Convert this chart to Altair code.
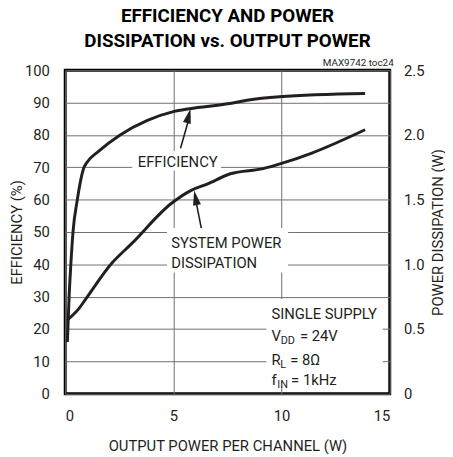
import altair as alt
import pandas as pd

# ---- data ----
eff_x = [0.1, 0.18, 0.26, 0.36, 0.56, 0.87, 1.0, 1.55, 2.54, 3.8, 5.0, 5.74, 7.6, 8.4, 9.9, 13.86]
eff_y = [16, 30, 40, 50, 60, 70, 71.5, 75, 80, 84.5, 87.2, 88.1, 89.7, 90.7, 91.8, 92.8]

pd_x = [0.1, 0.64, 0.94, 2.16, 3.07, 4.9, 5.8, 6.56, 7.63, 9.15, 10.0, 11.4, 13.86]
pd_y = [0.57, 0.66, 0.73, 1.01, 1.16, 1.47, 1.57, 1.62, 1.70, 1.74, 1.78, 1.86, 2.04]

x_ticks = [0, 5, 10, 15]
left_ticks = [0, 10, 20, 30, 40, 50, 60, 70, 80, 90, 100]
right_ticks = [0, 0.5, 1.0, 1.5, 2.0, 2.5]

title_lines = ["EFFICIENCY AND POWER", "DISSIPATION vs. OUTPUT POWER"]
x_title = "OUTPUT POWER PER CHANNEL (W)"
left_title = "EFFICIENCY (%)"
right_title = "POWER DISSIPATION (W)"
tag = "MAX9742 toc24"

# annotation placement (data units: x in W, y in %)
masks = pd.DataFrame({
    "x": [3.1, 4.7, 9.3],
    "x2": [7.2, 10.3, 14.68],
    "y": [68.9, 37.5, 2.4],
    "y2": [75.0, 51.2, 29.3],
})
labels_c = pd.DataFrame({"x": [5.2], "y": [70.2], "t": ["EFFICIENCY"]})
labels_l = pd.DataFrame({
    "x": [4.9, 4.9, 9.53],
    "y": [45.1, 39.0, 23.2],
    "t": ["SYSTEM POWER", "DISSIPATION", "SINGLE SUPPLY"],
})
main_txt = pd.DataFrame({
    "x": [9.53, 9.53, 9.53],
    "y": [16.2, 8.8, 2.6],
    "t": ["V", "R", "f"],
})
sub_txt = pd.DataFrame({
    "x": [9.96, 9.94, 9.8],
    "y": [15.3, 7.9, 1.7],
    "t": ["DD", "L", "IN"],
})
rest_txt = pd.DataFrame({
    "x": [10.85, 10.4, 10.44],
    "y": [16.2, 8.8, 2.6],
    "t": ["= 24V", "= 8\u03a9", "= 1kHz"],
})
shafts = pd.DataFrame({"x": [5.33, 6.29], "y": [75.9, 51.2], "x2": [5.76, 6.0], "y2": [86.0, 61.0]})
head_a = pd.DataFrame({"x": [5.79], "y": [88.1]})
head_b = pd.DataFrame({"x": [5.96], "y": [62.8]})

eff_df = pd.DataFrame({"x": eff_x, "y": eff_y})
pd_df = pd.DataFrame({"x": pd_x, "y": pd_y})

FONT = "Roboto, Liberation Sans, sans-serif"
INK = "#231f20"
GRID = "#6f6f6f"

X = alt.X("x:Q", scale=alt.Scale(domain=[0, 15], nice=False, zero=False),
          axis=alt.Axis(values=x_ticks, title=x_title, grid=True, gridColor=GRID,
                        gridWidth=1, domain=False, ticks=False, labelPadding=15,
                        titlePadding=16))
YL = alt.Y("y:Q", scale=alt.Scale(domain=[0, 100], nice=False),
           axis=alt.Axis(values=left_ticks, title=left_title, grid=True, gridColor=GRID,
                         gridWidth=1, domain=False, ticks=False, labelPadding=16,
                         titlePadding=0, orient="left"))
YR = alt.Y("y:Q", scale=alt.Scale(domain=[0, 2.5], nice=False),
           axis=alt.Axis(values=right_ticks, title=right_title, grid=False, domain=False,
                         ticks=False, labelPadding=14, titlePadding=7, orient="right",
                         titleAngle=270, titleBaseline="top",
                         labelExpr="datum.value == 0 ? '0' : format(datum.value, '.1f')"))

mask = alt.Chart(masks).mark_rect(color="white").encode(x=X, x2="x2:Q", y=YL, y2="y2:Q")

eff_line = alt.Chart(eff_df).mark_line(color=INK, strokeWidth=3, interpolate="monotone").encode(x=X, y=YL)

shaft = alt.Chart(shafts).mark_rule(color=INK, strokeWidth=1.6).encode(x=X, y=YL, x2="x2:Q", y2="y2:Q")
HEAD = "M0,0 L-0.27,1 L0.27,1 Z"
head1 = alt.Chart(head_a).mark_point(shape=HEAD, filled=True, color=INK, opacity=1, size=900,
                                     angle=14, strokeWidth=0).encode(x=X, y=YL)
head2 = alt.Chart(head_b).mark_point(shape=HEAD, filled=True, color=INK, opacity=1, size=900,
                                     angle=349, strokeWidth=0).encode(x=X, y=YL)

def txt(df, size, align="left"):
    return alt.Chart(df).mark_text(font=FONT, fontSize=size, color=INK, align=align,
                                   baseline="alphabetic").encode(x=X, y=YL, text="t:N")

tag_txt = alt.Chart(pd.DataFrame({"t": [tag]})).mark_text(
    font=FONT, fontSize=10, color=INK, align="right", baseline="alphabetic").encode(
    x=alt.value(333), y=alt.value(-4), text="t:N")

left = alt.layer(mask, eff_line, shaft, head1, head2,
                 txt(labels_c, 15, "center"), txt(labels_l, 15), txt(main_txt, 15),
                 txt(sub_txt, 11), txt(rest_txt, 15), tag_txt)

right = alt.Chart(pd_df).mark_line(color=INK, strokeWidth=3, interpolate="monotone").encode(x=X, y=YR)

chart = alt.layer(left, right).resolve_scale(y="independent").properties(
    width=329, height=328,
    title=alt.TitleParams(title_lines, font=FONT, fontSize=19, fontWeight="bold", color="black",
                          anchor="middle", lineHeight=25, offset=8),
    autosize=alt.AutoSizeParams(type="none"),
    padding={"left": 58, "top": 60, "right": 56, "bottom": 60},
).configure_view(stroke="black", strokeWidth=3).configure_axis(
    labelFont=FONT, titleFont=FONT, labelFontSize=15, titleFontSize=15,
    labelColor=INK, titleColor=INK, titleFontWeight="normal",
)

chart.save("out.html", embed_options={"renderer": "svg", "actions": False})
